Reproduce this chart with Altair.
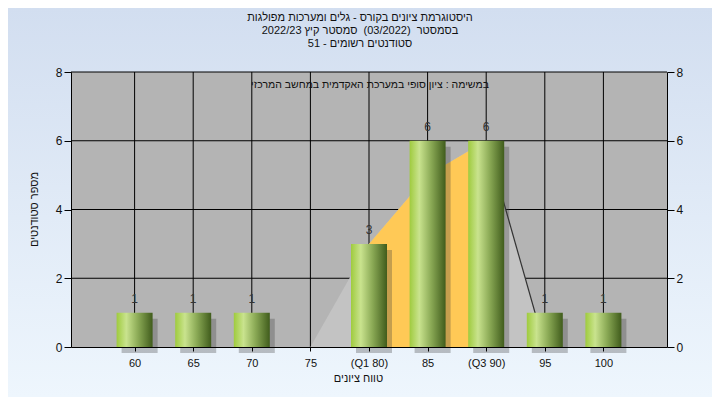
import altair as alt
import pandas as pd

# ---- data ----
grades = [60, 65, 70, 75, 80, 85, 90, 95, 100]
counts = [1, 1, 1, 0, 3, 6, 6, 1, 1]
tick_labels = ["60", "65", "70", "75", "(Q1 80)", "85", "(Q3 90)", "95", "100"]
curve_x = [75, 80, 85, 90, 95]
curve_y = [0, 3, 5, 6, 0]
q1, q3 = 80, 90
y_ticks = [0, 2, 4, 6, 8]

title_lines = [
    "היסטוגרמת ציונים בקורס - גלים ומערכות מפולגות",
    "בסמסטר\u00a0 (03/2022)\u00a0 סמסטר קיץ 2022/23",
    "סטודנטים רשומים - 51",
]
subtitle = "במשימה : ציון סופי במערכת האקדמית במחשב המרכזי"
x_title = "טווח ציונים"
y_title = "מספר סטודנטים"

FONT = "Liberation Sans"
W, H = 596, 275

bars_df = pd.DataFrame({"grade": grades, "count": counts})
curve_df = pd.DataFrame({"grade": curve_x, "count": curve_y})
xgrid_df = pd.DataFrame({"grade": grades})
ygrid_df = pd.DataFrame({"count": y_ticks[1:]})
one = pd.DataFrame({"a": [0]})

xscale = alt.Scale(domain=[55, 105], nice=False, zero=False)
yscale = alt.Scale(domain=[0, 8], nice=False)

label_expr = " : ".join(
    [f"datum.value == {g} ? '{l}'" for g, l in zip(grades, tick_labels)]
) + " : datum.label"

x_axis = alt.Axis(
    values=grades, labelExpr=label_expr, grid=False, domainColor="#000",
    tickColor="#000", tickSize=4, labelPadding=6, labelFont=FONT, labelFontSize=11,
    labelColor="#111", title=x_title, titleFont=FONT, titleFontSize=11,
    titleFontWeight="normal", titleColor="#111", titleX=287, titleY=31,
    titleBaseline="middle", titleAlign="center", zindex=1,
)
y_axis_left = alt.Axis(
    values=y_ticks, grid=False, domainColor="#000", tickColor="#000", tickSize=7,
    labelPadding=2, labelFont=FONT, labelFontSize=12, labelColor="#111",
    title=y_title, titleFont=FONT, titleFontSize=11, titleFontWeight="normal",
    titleColor="#111", titleX=-37, titleY=137, titleAngle=270,
    titleBaseline="middle", titleAlign="center", zindex=1, orient="left",
)
y_axis_right = alt.Axis(
    values=y_ticks, grid=False, domainColor="#000", tickColor="#000", tickSize=7,
    labelPadding=2, labelFont=FONT, labelFontSize=12, labelColor="#111",
    title=None, zindex=1, orient="right",
)

X = alt.X("grade:Q", scale=xscale, axis=x_axis)


def Y(axis=None):
    return alt.Y("count:Q", scale=yscale, axis=axis)


bg = alt.Chart(one).mark_rect(
    color=alt.Gradient(gradient="linear", x1=0, y1=0, x2=0, y2=1,
                       stops=[alt.GradientStop(color="#d2def0", offset=0),
                              alt.GradientStop(color="#eef6fd", offset=1)])
).encode(x=alt.value(-63), x2=alt.value(W + 45), y=alt.value(-64), y2=alt.value(H + 50))

plot_bg = alt.Chart(one).mark_rect(color="#b4b4b4").encode(
    x=alt.value(0), x2=alt.value(W), y=alt.value(0), y2=alt.value(H))

vgrid = alt.Chart(xgrid_df).mark_rule(color="#000", strokeWidth=1).encode(
    x=X, y=alt.value(0), y2=alt.value(H))

hgrid = alt.Chart(ygrid_df).mark_rule(color="#000", strokeWidth=1).encode(
    y=Y(y_axis_right), x=alt.value(0), x2=alt.value(W))

area_gray = alt.Chart(curve_df).mark_area(color="#c3c3c3", opacity=1).encode(x=X, y=Y())

area_yellow = alt.Chart(curve_df).transform_filter(
    (alt.datum.grade >= q1) & (alt.datum.grade <= q3)
).mark_area(color="#ffc956", opacity=1).encode(x=X, y=Y())

curve_line = alt.Chart(curve_df).transform_filter(alt.datum.grade >= q3).mark_line(
    color="#333333", strokeWidth=1.2).encode(x=X, y=Y())

shadow = alt.Chart(bars_df).transform_filter(alt.datum["count"] > 0).mark_bar(
    size=36, color="#3a3a3a", opacity=0.3, xOffset=5, yOffset=6, y2Offset=4
).encode(x=X, y=Y())

bars = alt.Chart(bars_df).transform_filter(alt.datum["count"] > 0).mark_bar(
    size=36,
    color=alt.Gradient(gradient="linear", x1=0, y1=0, x2=1, y2=0,
                       stops=[alt.GradientStop(color="#9fcb3e", offset=0),
                              alt.GradientStop(color="#c9e38e", offset=0.27),
                              alt.GradientStop(color="#8aa955", offset=0.6),
                              alt.GradientStop(color="#405c1c", offset=1)]),
).encode(x=X, y=Y(y_axis_left))

labels = alt.Chart(bars_df).transform_filter(alt.datum["count"] > 0).mark_text(
    dy=-14, baseline="middle", font=FONT, fontSize=12, color="#333"
).encode(x=X, y=Y(), text="count:Q")

sub = alt.Chart(one).mark_text(
    text=subtitle, font=FONT, fontSize=10.5, color="#111", baseline="middle", align="center"
).encode(x=alt.value(299), y=alt.value(13))

titles = alt.Chart(one).mark_text(
    text=title_lines, font=FONT, fontSize=11, color="#111", baseline="top",
    align="center", lineHeight=13
).encode(x=alt.value(289), y=alt.value(-60))

chart = alt.layer(
    bg, plot_bg, vgrid, hgrid, area_gray, area_yellow, curve_line, shadow, bars,
    labels, sub, titles
).resolve_axis(y="independent").resolve_scale(y="shared").properties(
    width=W, height=H, autosize="none",
    padding={"left": 63, "top": 64, "right": 45, "bottom": 50},
).configure_view(stroke=None).configure(background="#eef6fd")

chart.save("out.html", embed_options={"renderer": "svg", "actions": False})
